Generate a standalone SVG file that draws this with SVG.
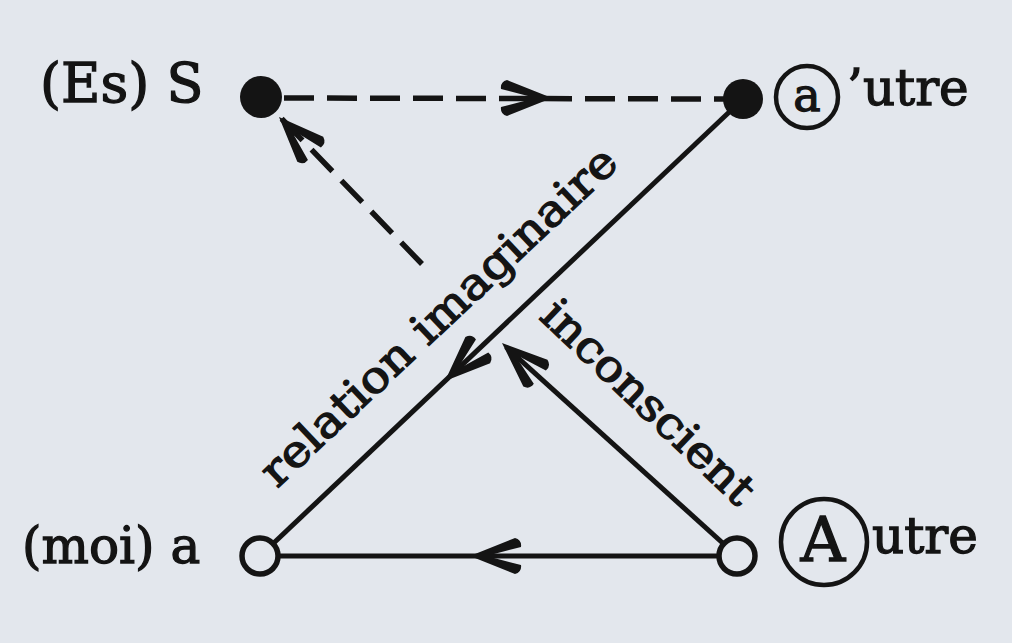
<svg xmlns="http://www.w3.org/2000/svg" width="1012" height="643" viewBox="0 0 1012 643">
<style>
.t{font-family:"DejaVu Serif","Liberation Serif",serif;fill:#141414;stroke:#141414;stroke-width:1.3}
.ln{stroke:#141414;stroke-width:5;fill:none}
.ds{stroke:#141414;stroke-width:5.5;fill:none;stroke-dasharray:30 13}
.ah{fill:#141414}
</style>
<defs>
<path id="arr" d="M0,0 L-45,-18 Q-52,-16 -51,-9 L-24,-2 L-24,2 L-51,9 Q-52,16 -45,18 Z"/>
</defs>
<rect width="1012" height="643" fill="#e3e7ed"/>
<g id="connectors">
<line class="ds" x1="284" y1="98" x2="724" y2="99"/>
<line class="ds" x1="422" y1="264" x2="280" y2="117"/>
<line class="ln" x1="743" y1="99" x2="260" y2="556"/>
<line class="ln" x1="737" y1="556" x2="260" y2="556"/>
<line class="ln" x1="737" y1="556" x2="506" y2="347"/>
<use href="#arr" class="ah" transform="translate(552,98)"/>
<use href="#arr" class="ah" transform="translate(279,117) rotate(-134)"/>
<use href="#arr" class="ah" transform="translate(445,381) rotate(136.7)"/>
<use href="#arr" class="ah" transform="translate(502,343) rotate(-137.9)"/>
<use href="#arr" class="ah" transform="translate(470,556) rotate(180)"/>
</g>
<g id="node-S">
<circle cx="261" cy="97" r="21" fill="#141414"/>
<text class="t" x="40" y="102" font-size="54">(Es) S</text>
</g>
<g id="node-autre-a">
<circle cx="743" cy="99" r="20" fill="#141414"/>
<circle cx="807" cy="97" r="31" fill="none" stroke="#141414" stroke-width="4.5"/>
<text class="t" x="807" y="111" font-size="46" text-anchor="middle">a</text>
<text class="t" x="847" y="105" font-size="50">’utre</text>
</g>
<g id="node-moi">
<circle cx="260" cy="556" r="18" fill="#e3e7ed" stroke="#141414" stroke-width="5.5"/>
<text class="t" x="22" y="563" font-size="50">(moi) a</text>
</g>
<g id="node-Autre">
<circle cx="737" cy="556" r="18" fill="#e3e7ed" stroke="#141414" stroke-width="5.5"/>
<circle cx="824" cy="542" r="43" fill="none" stroke="#141414" stroke-width="4.5"/>
<text class="t" x="823" y="561" font-size="62" text-anchor="middle">A</text>
<text class="t" x="872" y="553" font-size="50">utre</text>
</g>
<g id="labels">
<text class="t" font-size="44" transform="translate(277,489) rotate(-43.3)" textLength="472" lengthAdjust="spacingAndGlyphs">relation imaginaire</text>
<text class="t" font-size="44" transform="translate(538,318) rotate(43.5)" textLength="276" lengthAdjust="spacingAndGlyphs">inconscient</text>
</g>
</svg>
